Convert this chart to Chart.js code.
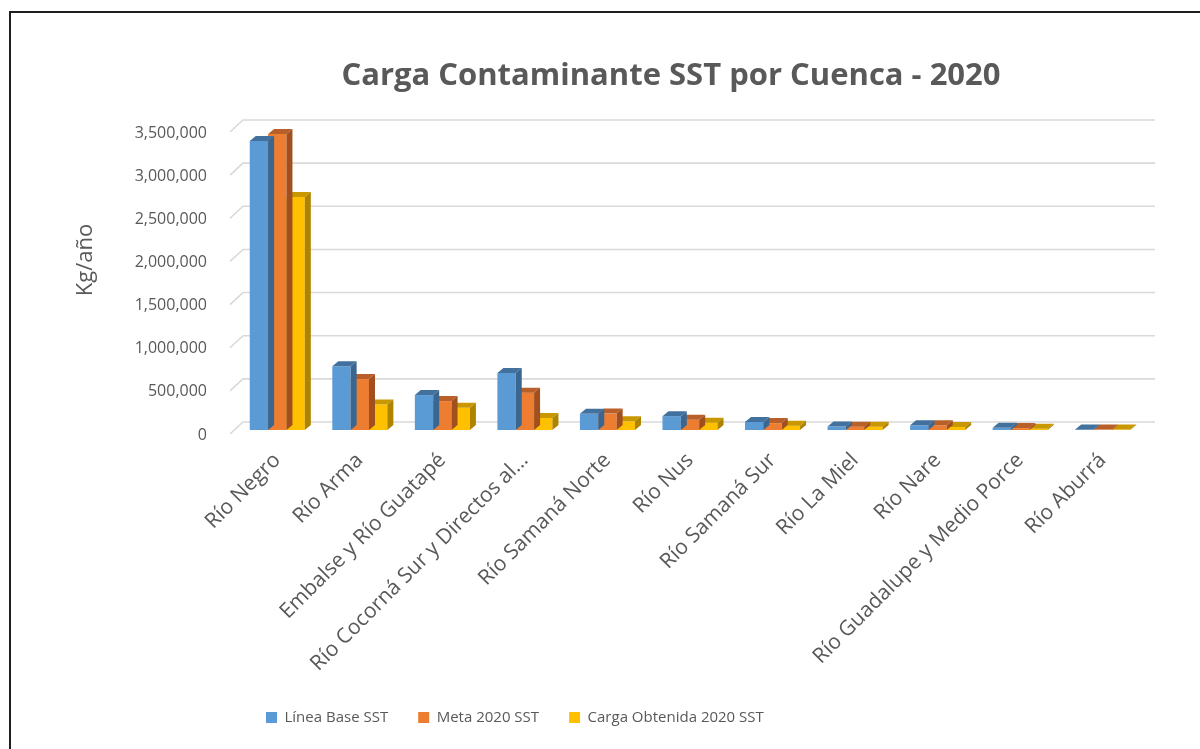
<!DOCTYPE html>
<html>
<head>
<meta charset="utf-8">
<script src="https://cdn.jsdelivr.net/npm/chart.js@4.4.1/dist/chart.umd.min.js"></script>
<style>
  html, body { margin: 0; padding: 0; background: #fff; overflow: hidden; }
  #wrap { position: relative; width: 1200px; height: 749px; }
  #frame { position: absolute; left: 9px; top: 11px; right: -10px; bottom: -10px;
           border-left: 2px solid #1f1f1f; border-top: 2px solid #1f1f1f; pointer-events: none; }
</style>
</head>
<body>
<div id="wrap">
  <canvas id="chart" width="1200" height="749"></canvas>
  <div id="frame"></div>
</div>
<script>
const cuencas = [
  "Río Negro", "Río Arma", "Embalse y Río Guatapé", "Río Cocorná Sur y Directos al…",
  "Río Samaná Norte", "Río Nus", "Río Samaná Sur", "Río La Miel", "Río Nare",
  "Río Guadalupe y Medio Porce", "Río Aburrá"
];
const lineaBase = [3350000, 740000, 405000, 660000, 187000, 160000, 94000, 40000, 55000, 25000, 7000];
const meta2020 = [3430000, 590000, 335000, 433000, 190000, 120000, 80000, 38000, 55000, 22000, 5000];
const cargaObtenida = [2700000, 295000, 257000, 140000, 100000, 85000, 50000, 38000, 35000, 15000, 5000];
const yTicksMax = 3500000;
const yTicksStep = 500000;
const chartTitle = "Carga Contaminante SST por Cuenca - 2020";
const yTitle = "Kg/año";

// colores: frente, techo, lado
const COLORS = [
  ["#5B9BD5", "#41719C", "#3A6690"],
  ["#ED7D31", "#B9602A", "#A14F1E"],
  ["#FFC000", "#C99700", "#AD8300"],
];
const DEPTH = { dx: 6, dy: 5 };
const TEXT = "#595959";

// titulos (posicion como en Excel, no centrados en el lienzo)
const titles = {
  id: "titles",
  afterDraw(chart) {
    const { ctx } = chart;
    ctx.save();
    ctx.fillStyle = TEXT;
    ctx.textAlign = "center";
    ctx.textBaseline = "middle";
    ctx.font = "bold 31px 'Open Sans'";
    ctx.fillText(chartTitle, 671, 76);
    ctx.translate(86, 260);
    ctx.rotate(-Math.PI / 2);
    ctx.font = "22px 'Open Sans'";
    ctx.fillText(yTitle, 0, 0);
    ctx.restore();
  },
};

// paredes / grilla en perspectiva
const grid3d = {
  id: "grid3d",
  beforeDatasetsDraw(chart) {
    const { ctx } = chart;
    const y = chart.scales.y;
    ctx.save();
    ctx.strokeStyle = "#d9d9d9";
    ctx.lineWidth = 1.6;
    for (let v = 0; v <= yTicksMax; v += yTicksStep) {
      const py = y.getPixelForValue(v);
      ctx.beginPath();
      ctx.moveTo(230, py + 4);
      ctx.lineTo(243, py - 8);
      ctx.lineTo(1155, py - 8);
      ctx.stroke();
    }
    ctx.restore();
  },
};

// techo y lado de cada barra (despues de cada serie)
const bars3d = {
  id: "bars3d",
  afterDatasetDraw(chart, args) {
    const { ctx } = chart;
    const c = COLORS[args.index];
    ctx.save();
    args.meta.data.forEach((bar) => {
      const { x, y, base, width } = bar.getProps(["x", "y", "base", "width"], true);
      const l = x - width / 2, r = x + width / 2;
      ctx.fillStyle = c[1];
      ctx.beginPath();
      ctx.moveTo(l, y);
      ctx.lineTo(r, y);
      ctx.lineTo(r + DEPTH.dx, y - DEPTH.dy);
      ctx.lineTo(l + DEPTH.dx, y - DEPTH.dy);
      ctx.closePath();
      ctx.fill();
      ctx.fillStyle = c[2];
      ctx.beginPath();
      ctx.moveTo(r, y);
      ctx.lineTo(r + DEPTH.dx, y - DEPTH.dy);
      ctx.lineTo(r + DEPTH.dx, base - DEPTH.dy);
      ctx.lineTo(r, base);
      ctx.closePath();
      ctx.fill();
    });
    ctx.restore();
  },
};

new Chart(document.getElementById("chart"), {
  type: "bar",
  data: {
    labels: cuencas,
    datasets: [
      { label: "Línea Base SST", data: lineaBase, backgroundColor: COLORS[0][0] },
      { label: "Meta 2020 SST", data: meta2020, backgroundColor: COLORS[1][0] },
      { label: "Carga Obtenida 2020 SST", data: cargaObtenida, backgroundColor: COLORS[2][0] },
    ],
  },
  options: {
    responsive: false,
    animation: false,
    layout: { padding: { left: 0, right: 56, top: 128, bottom: 14 } },
    datasets: { bar: { categoryPercentage: 0.667, barPercentage: 1.0 } },
    scales: {
      x: {
        grid: { display: false },
        border: { display: false },
        ticks: {
          color: TEXT, font: { family: "Open Sans", size: 21 },
          minRotation: 45, maxRotation: 45, autoSkip: false, padding: 10,
        },
        afterFit(scale) { scale.height = 250; },
      },
      y: {
        min: 0, max: yTicksMax,
        grid: { display: false },
        border: { display: false },
        ticks: {
          stepSize: yTicksStep, color: TEXT, padding: 21, labelOffset: 5,
          font: { family: "Open Sans", size: 16 },
          callback: (v) => v.toLocaleString("en-US"),
        },
        afterFit(scale) { scale.width = 236; },
      },
    },
    plugins: {
      title: { display: false },
      legend: {
        position: "bottom",
        align: "start",
        fullSize: false,
        labels: {
          color: TEXT, font: { family: "Open Sans", size: 15 },
          boxWidth: 11, boxHeight: 11, padding: 30,
        },
      },
      tooltip: { enabled: false },
    },
  },
  plugins: [grid3d, bars3d, titles],
});
</script>
</body>
</html>
